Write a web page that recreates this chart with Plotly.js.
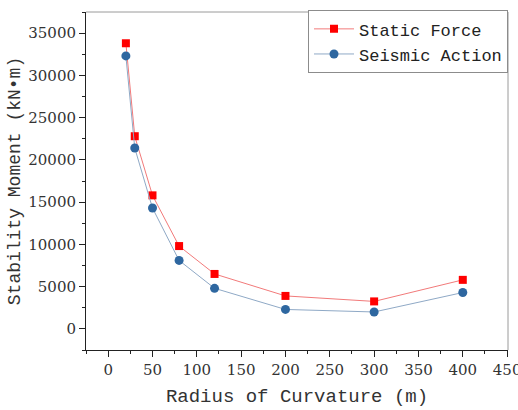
<!DOCTYPE html>
<html>
<head>
<meta charset="utf-8">
<script src="https://cdn.plot.ly/plotly-3.0.1.min.js"></script>
<style>html,body{margin:0;padding:0;background:#fff}#chart{width:518px;height:410px}</style>
</head>
<body>
<div id="chart"></div>
<script>
const radius = [20, 30, 50, 80, 120, 200, 300, 400];
const staticForce = [33800, 22800, 15800, 9800, 6500, 3900, 3250, 5800];
const seismicAction = [32300, 21400, 14300, 8100, 4800, 2300, 2000, 4300];
const seriesNames = ["Static Force", "Seismic Action"];
const xTicks = [0, 50, 100, 150, 200, 250, 300, 350, 400, 450];

const monoFont = "Liberation Mono";
const serifFont = "DejaVu Serif";

const traces = [
  {
    x: radius, y: staticForce, name: seriesNames[0], type: "scatter", mode: "lines+markers",
    line: {color: "#f27a7a", width: 1},
    marker: {symbol: "square", size: 8, color: "#ff0000"}
  },
  {
    x: radius, y: seismicAction, name: seriesNames[1], type: "scatter", mode: "lines+markers",
    line: {color: "#8fa9c6", width: 1},
    marker: {symbol: "circle", size: 9, color: "#2e67a0"}
  }
];

const layout = {
  width: 518, height: 410,
  margin: {l: 86, r: 10, t: 10, b: 60},
  paper_bgcolor: "#fff", plot_bgcolor: "#fff",
  showlegend: true,
  legend: {
    x: 1, xanchor: "right", y: 1.005, yanchor: "top",
    bordercolor: "#8c8c8c", borderwidth: 1, bgcolor: "#fff",
    font: {family: monoFont, size: 17, color: "#222"},
    tracegroupgap: 0, itemwidth: 40
  },
  xaxis: {
    range: [-25, 451], tickmode: "array", tickvals: xTicks,
    showgrid: false, zeroline: false,
    showline: true, linecolor: "#222", linewidth: 1,
    ticks: "outside", ticklen: 6, tickcolor: "#222",
    minor: {dtick: 25, tick0: 0, ticks: "outside", ticklen: 3, tickcolor: "#222"},
    tickfont: {family: serifFont, size: 15, color: "#333"},
    ticklabeloverflow: "allow",
    title: {text: "Radius of Curvature (m)", font: {family: monoFont, size: 19, color: "#333"}, standoff: 10}
  },
  yaxis: {
    range: [-2500, 37500], tick0: 0, dtick: 5000, tickformat: "d",
    showgrid: false, zeroline: false,
    showline: true, linecolor: "#222", linewidth: 1,
    ticks: "outside", ticklen: 6, tickcolor: "#222",
    minor: {dtick: 2500, ticks: "outside", ticklen: 3, tickcolor: "#222"},
    tickfont: {family: serifFont, size: 15, color: "#333"},
    title: {text: "Stability Moment (kN\u2022m)", font: {family: monoFont, size: 18, color: "#333"}, standoff: 2}
  },
  shapes: [
    {type: "line", xref: "paper", yref: "paper", x0: 0, x1: 1, y0: 1, y1: 1, line: {color: "#9a9a9a", width: 1}},
    {type: "line", xref: "paper", yref: "paper", x0: 1, x1: 1, y0: 0, y1: 1, line: {color: "#9a9a9a", width: 1}}
  ]
};

Plotly.newPlot("chart", traces, layout, {staticPlot: true, displayModeBar: false});
</script>
</body>
</html>
